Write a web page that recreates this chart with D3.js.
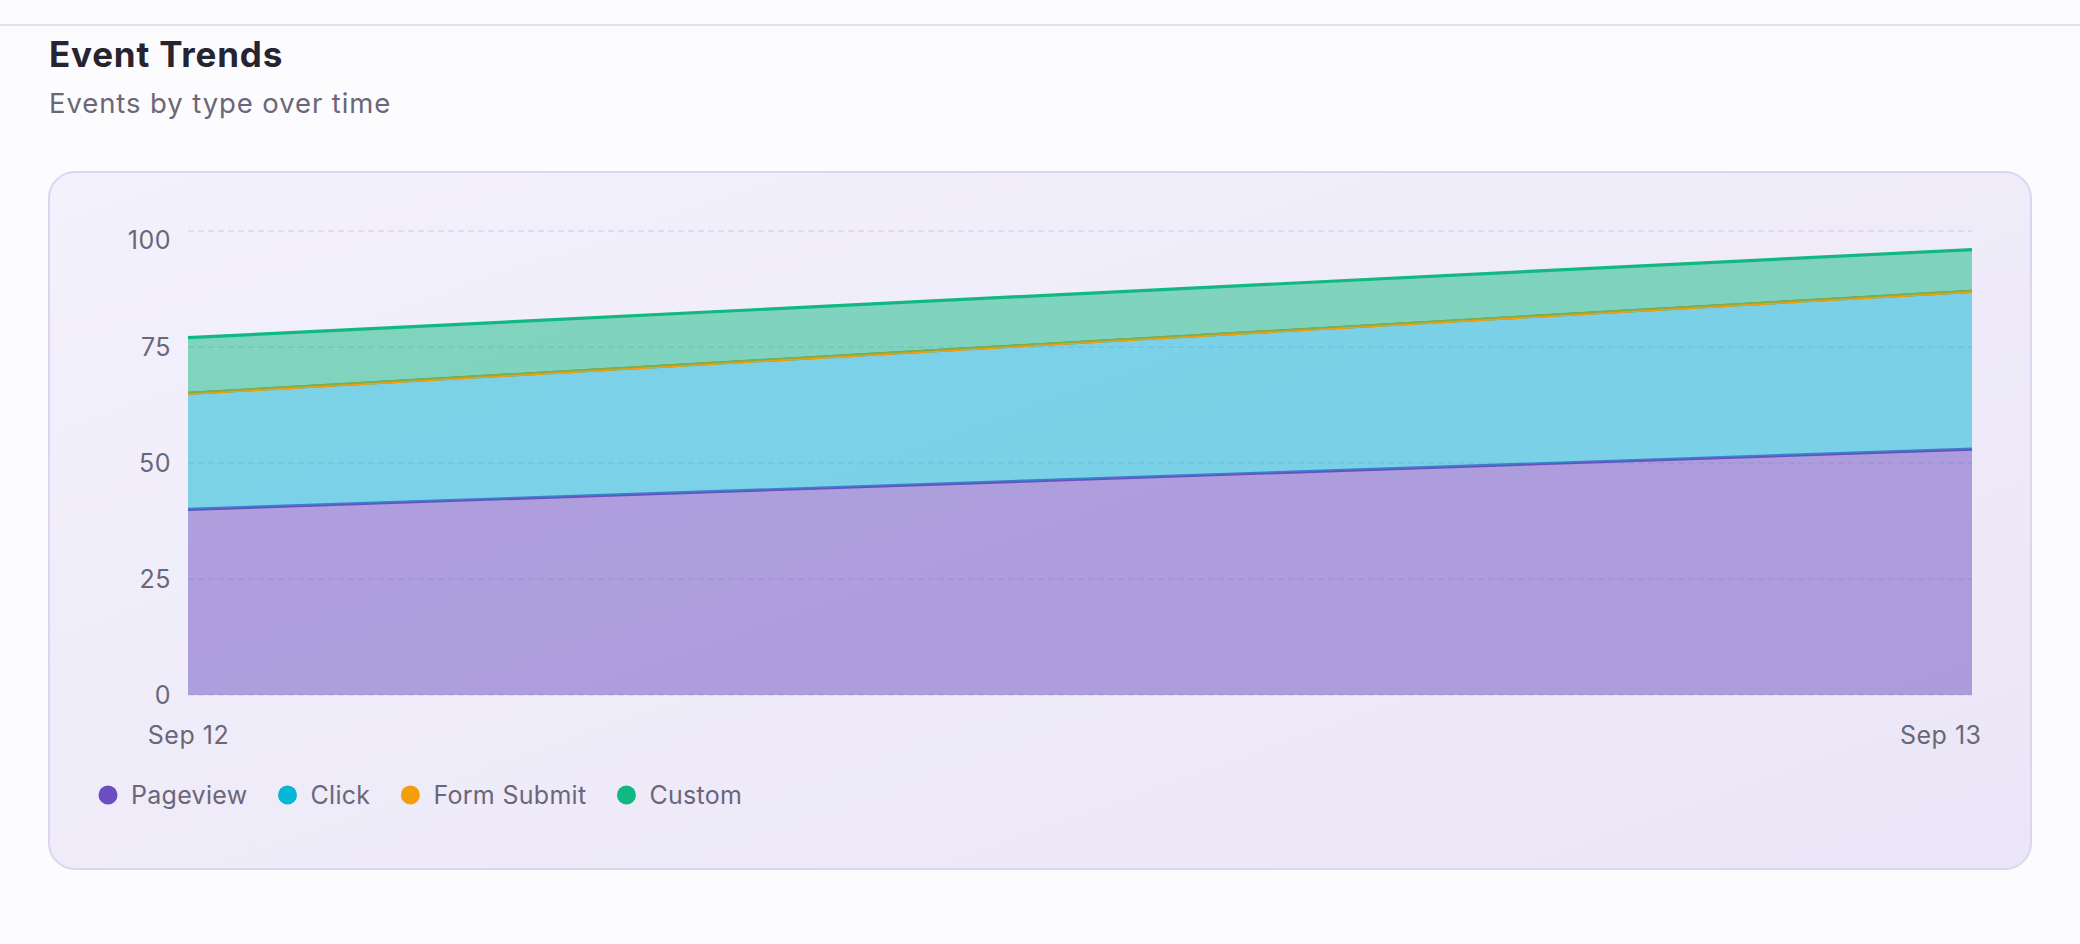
<!DOCTYPE html>
<html>
<head>
<meta charset="utf-8">
<script src="https://cdn.jsdelivr.net/npm/d3@7"></script>
<style>
  body { margin: 0; background: #fcfcfe; font-family: Inter, "Noto Sans", sans-serif; }
  svg { display: block; }
</style>
</head>
<body>
<svg id="SVG_CONTAINER"></svg>
<script>
let d3 = window.d3;

// chart data
const dates      = ["Sep 12", "Sep 13"];
const pageview   = [40, 53];
const click      = [25, 34];
const formSubmit = [0, 0];
const custom     = [12, 9];
const yTicks     = [0, 25, 50, 75, 100];

const seriesNames  = ["Pageview", "Click", "Form Submit", "Custom"];
const seriesColors = ["#6b4fc0", "#06b6d4", "#f59e0b", "#10b981"];

const width = 2080, height = 944;
const PLOT = { LEFT: 188, RIGHT: 1972, TOP: 231, BOTTOM: 695 };

let svg = d3.select("#SVG_CONTAINER").attr("width", width).attr("height", height);

// top rule of the page
svg.append("rect").attr("x", 0).attr("y", 24).attr("width", width).attr("height", 2).attr("fill", "#e4e1ef");

// header
svg.append("text").attr("x", 49).attr("y", 67)
  .style("font-size", "35px").style("font-weight", 700).style("fill", "#27232f")
  .style("letter-spacing", "0.8px")
  .text("Event Trends");
svg.append("text").attr("x", 49).attr("y", 113)
  .style("font-size", "27.5px").style("fill", "#6b6678")
  .style("letter-spacing", "0.9px")
  .text("Events by type over time");

// card
let defs = svg.append("defs");
let grad = defs.append("linearGradient").attr("id", "cardGrad")
  .attr("x1", "0").attr("y1", "0").attr("x2", "1").attr("y2", "1");
grad.append("stop").attr("offset", "0%").attr("stop-color", "#f3f1fc");
grad.append("stop").attr("offset", "100%").attr("stop-color", "#ebe6f7");

svg.append("rect")
  .attr("x", 49).attr("y", 172).attr("width", 1982).attr("height", 697)
  .attr("rx", 26).attr("ry", 26)
  .attr("fill", "url(#cardGrad)")
  .attr("stroke", "#dbd5f0").attr("stroke-width", 2);

// table for the stack
let table = dates.map((d, i) => ({
  date: d,
  "Pageview": pageview[i],
  "Click": click[i],
  "Form Submit": formSubmit[i],
  "Custom": custom[i]
}));

let xScale = d3.scalePoint().domain(dates).range([PLOT.LEFT, PLOT.RIGHT]);
let yScale = d3.scaleLinear().domain([0, 100]).range([PLOT.BOTTOM, PLOT.TOP]);
let color  = d3.scaleOrdinal().domain(seriesNames).range(seriesColors);

let chart = svg.append("g").attr("id", "chart");

// dashed grid lines
chart.append("g").selectAll("line")
  .data(yTicks)
  .enter()
  .append("line")
    .attr("x1", PLOT.LEFT).attr("x2", PLOT.RIGHT)
    .attr("y1", d => yScale(d)).attr("y2", d => yScale(d))
    .attr("stroke", "#d9d4ef").attr("stroke-width", 1.5)
    .attr("stroke-dasharray", "6 4");

let stackData = d3.stack().keys(seriesNames)(table);

let area = d3.area()
  .x(d => xScale(d.data.date))
  .y0(d => yScale(d[0]))
  .y1(d => yScale(d[1]));

let topLine = d3.line()
  .x(d => xScale(d.data.date))
  .y(d => yScale(d[1]));

let layers = chart.selectAll("g.layer")
  .data(stackData)
  .enter()
  .append("g")
  .attr("class", "layer");

layers.append("path")
  .attr("d", area)
  .attr("fill", d => color(d.key))
  .attr("fill-opacity", 0.5);

layers.append("path")
  .attr("d", topLine)
  .attr("fill", "none")
  .attr("stroke", d => color(d.key))
  .attr("stroke-width", 3.2);

// y axis
let yAxis = d3.axisLeft(yScale).tickValues(yTicks).tickSize(0).tickPadding(17);
let yg = chart.append("g")
  .attr("transform", "translate(" + PLOT.LEFT + ",0)")
  .call(yAxis);
yg.select(".domain").remove();
yg.selectAll("text")
  .style("font-size", "25px").style("font-family", "Inter, sans-serif").style("fill", "#6b6678")
  .style("letter-spacing", "0.5px")
  .attr("dy", d => d === d3.max(yTicks) ? "0.7em" : "0.35em");

// x axis
let xAxis = d3.axisBottom(xScale).tickSize(0).tickPadding(0);
let xg = chart.append("g")
  .attr("transform", "translate(0," + PLOT.BOTTOM + ")")
  .call(xAxis);
xg.select(".domain").remove();
xg.selectAll("text")
  .style("font-size", "25px").style("font-family", "Inter, sans-serif").style("fill", "#6b6678")
  .style("letter-spacing", "0.5px")
  .attr("y", 49).attr("dy", 0);
xg.selectAll(".tick").filter(d => d === dates[dates.length - 1]).select("text")
  .style("text-anchor", "end").attr("x", 9);

// legend
let legend = svg.append("g").attr("class", "legend");
let cx = 108;
for (let i = 0; i < seriesNames.length; i++) {
  legend.append("circle").attr("cx", cx).attr("cy", 795).attr("r", 9.5).style("fill", color(seriesNames[i]));
  let t = legend.append("text").attr("x", cx + 23).attr("y", 803.5)
    .text(seriesNames[i])
    .style("font-size", "25px").style("fill", "#6b6678")
    .style("letter-spacing", "0.3px");
  cx = cx + 23 + t.node().getComputedTextLength() + 40;
}
</script>
</body>
</html>
